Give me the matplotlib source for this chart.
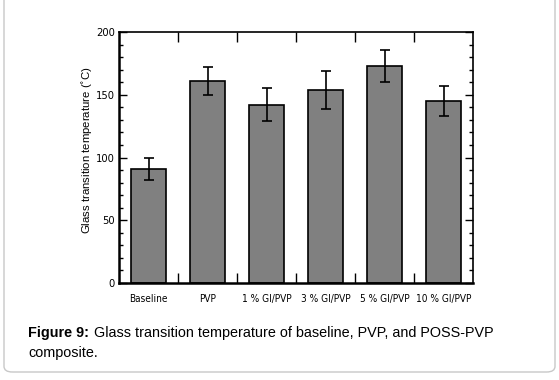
"""
Glass transition temperature bar chart (Figure 9)
"""

import matplotlib.pyplot as plt
from matplotlib.patches import FancyBboxPatch
from matplotlib.ticker import MultipleLocator
import numpy as np

# Data
samples = ['Baseline', 'PVP', '1 % GI/PVP', '3 % GI/PVP', '5 % GI/PVP', '10 % GI/PVP']
tg_mean = [91, 161, 142, 154, 173, 145]
tg_err = [9, 11, 13, 15, 13, 12]

plt.rcParams['font.family'] = ['DejaVu Sans']
plt.rcParams['font.stretch'] = 'condensed'

fig = plt.figure(figsize=(5.59, 3.80), dpi=100)
ax = fig.add_axes([119 / 559, 1 - 283 / 380, 354 / 559, 251 / 380])

x = np.arange(len(samples))
ax.bar(x, tg_mean, width=0.6, color='#808080', edgecolor='black', linewidth=1.2,
       yerr=tg_err, capsize=3.5, error_kw={'elinewidth': 1.2, 'capthick': 1.2})

ax.set_xlim(-0.5, len(samples) - 0.5)
ax.set_ylim(0, 200)

# ticks: labels at bar centres, tick marks at the category borders
ax.set_xticks(x)
ax.set_xticklabels(samples, fontsize=7.2)
ax.tick_params(axis='x', which='major', length=0, pad=8)
ax.set_xticks(np.arange(0.5, len(samples) - 0.5, 1), minor=True)
ax.tick_params(axis='x', which='minor', direction='in', length=7, width=1,
               top=True, bottom=True)

ax.yaxis.set_major_locator(MultipleLocator(50))
ax.yaxis.set_minor_locator(MultipleLocator(10))
ax.tick_params(axis='y', which='major', direction='in', length=6, width=1,
               left=True, right=True, labelsize=8, pad=3)
ax.tick_params(axis='y', which='minor', direction='in', length=3, width=1,
               left=True, right=True)

for side in ['left', 'bottom']:
    ax.spines[side].set_linewidth(1.8)
for side in ['right', 'top']:
    ax.spines[side].set_linewidth(1.2)

ax.set_ylabel(r'Glass transition temperature ($^{\circ}$C)', fontsize=8.2,
              family=['Liberation Sans', 'DejaVu Sans'], stretch='normal')
ax.yaxis.set_label_coords(-0.068, 0.53)

# rounded frame round the whole figure
frame = FancyBboxPatch((4 / 559, 8 / 380), 551 / 559, 380 / 380,
                       boxstyle='round,pad=0,rounding_size=0.015',
                       transform=fig.transFigure, facecolor='none',
                       edgecolor='#c8c8c8', linewidth=1.0)
fig.patches.append(frame)

# caption
cap_font = ['Liberation Sans', 'DejaVu Sans']
fig.text(28 / 559, 1 - 337 / 380, 'Figure 9:', fontsize=10.4, fontweight='bold',
         family=cap_font, stretch='normal', va='baseline')
fig.text(94 / 559, 1 - 337 / 380,
         'Glass transition temperature of baseline, PVP, and POSS-PVP',
         fontsize=10.4, family=cap_font, stretch='normal', va='baseline')
fig.text(28 / 559, 1 - 357 / 380, 'composite.', fontsize=10.4,
         family=cap_font, stretch='normal', va='baseline')

fig.savefig('out.png', dpi=100)
